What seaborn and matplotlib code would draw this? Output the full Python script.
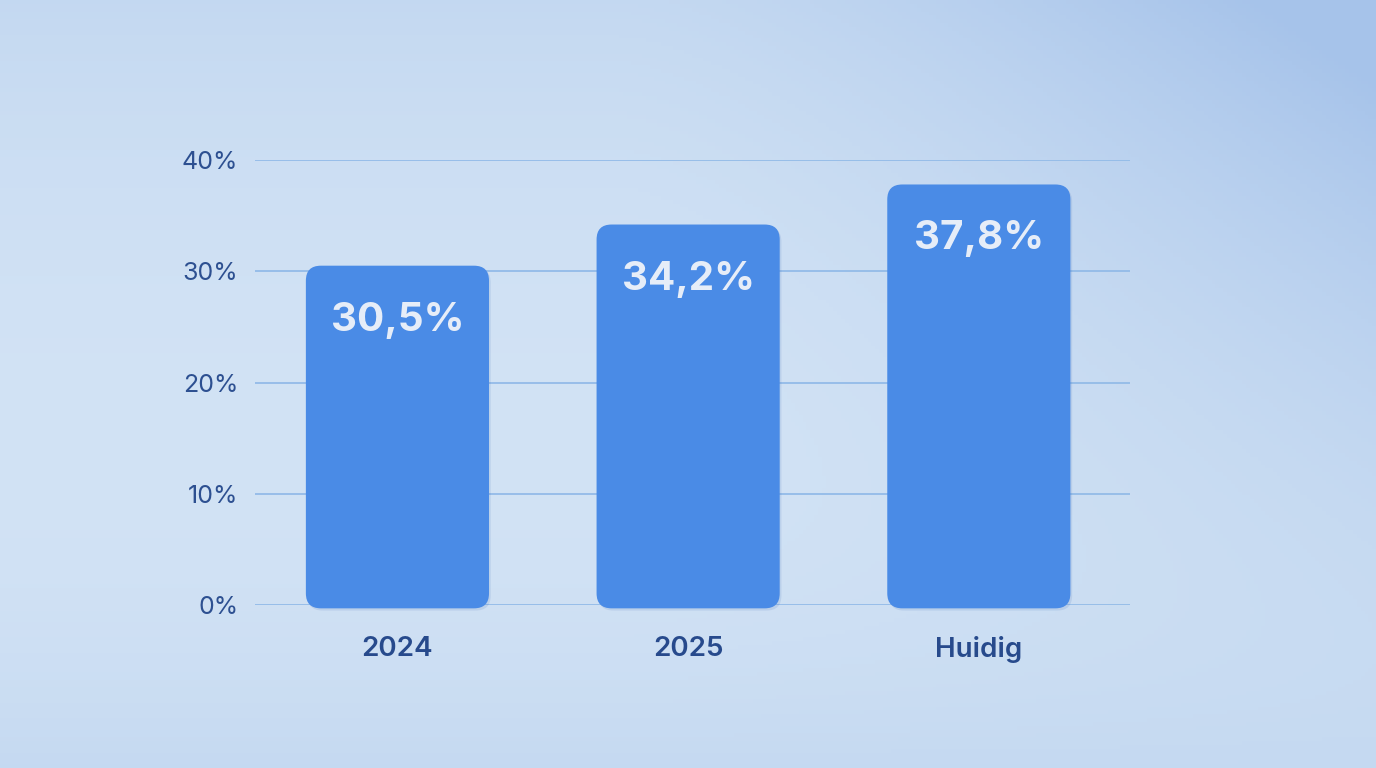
import numpy as np
import pandas as pd
import matplotlib
matplotlib.use("Agg")
import matplotlib.pyplot as plt
import seaborn as sns
from matplotlib.patches import FancyBboxPatch
from matplotlib.colors import LinearSegmentedColormap

categories = ["2024", "2025", "Huidig"]
values = [30.5, 34.2, 37.8]
value_labels = ["30,5%", "34,2%", "37,8%"]
y_ticks = [0, 10, 20, 30, 40]
y_tick_labels = ["0%", "10%", "20%", "30%", "40%"]

sns.set_theme(style="white")
plt.rcParams['font.family'] = ['Inter', 'DejaVu Sans']

W, H = 1376, 768
fig = plt.figure(figsize=(W / 100, H / 100), dpi=100)

# background gradient
bg = fig.add_axes([0, 0, 1, 1], zorder=-10)
yy, xx = np.mgrid[0:1:200j, 0:1:360j]
t = 0.55 * np.clip(xx - 0.45, 0, None) ** 1.5 * (1 - yy) * 2.2 + 0.35 * (1 - yy) ** 3 * 0.6 + 0.2 * yy ** 5
t = np.clip(t, 0, 1)
cmap = LinearSegmentedColormap.from_list("bg", ["#d4e4f5", "#a6c3ea"])
bg.imshow(t, cmap=cmap, aspect="auto", extent=[0, 1, 0, 1], origin="upper", vmin=0, vmax=0.6)
bg.axis("off")

left, right = 255 / W, 1130 / W
bottom, top = 1 - 605 / H, 1 - 160 / H
ax = fig.add_axes([left, bottom, right - left, top - bottom])
ax.patch.set_alpha(0)

df = pd.DataFrame({"cat": categories, "val": values})
sns.barplot(data=df, x="cat", y="val", ax=ax, color="#4a8be6", width=0.63, saturation=1)

ax.set_xlim(-0.49, 2.52)
ax.set_ylim(0, 40)

# replace bars with rounded ones
px_x = (right - left) * W / (2.52 + 0.49)
px_y = (top - bottom) * H / 40
aspect = px_x / px_y
r = 15 / px_x
for p in list(ax.patches):
    x0, w, h = p.get_x(), p.get_width(), p.get_height()
    p.remove()
    shadow = FancyBboxPatch((x0 + 0.006, -0.5), w, h + 0.3,
                            boxstyle=f"round,pad=0,rounding_size={r}",
                            mutation_aspect=aspect, facecolor="#2f5fae", alpha=0.12,
                            edgecolor="none", zorder=2, clip_on=False)
    ax.add_patch(shadow)
    bar = FancyBboxPatch((x0, -0.3), w, h + 0.3,
                         boxstyle=f"round,pad=0,rounding_size={r}",
                         mutation_aspect=aspect, facecolor="#4a8be6",
                         edgecolor="none", zorder=3, clip_on=False)
    ax.add_patch(bar)

for i, (v, lab) in enumerate(zip(values, value_labels)):
    ax.text(i, v - 4.9, lab, ha="center", va="center", fontsize=29,
            fontweight="bold", color="#e6edf8", zorder=5)

ax.set_yticks(y_ticks)
ax.set_yticklabels(y_tick_labels)
ax.yaxis.grid(True, color="#93bbe8", linewidth=1.3)
ax.set_axisbelow(True)
ax.tick_params(axis="y", length=0, pad=12, labelsize=18, labelcolor="#2d5091")
ax.tick_params(axis="x", length=0, pad=22, labelsize=20, labelcolor="#274a8c")
for lbl in ax.get_xticklabels():
    lbl.set_fontweight("semibold")
ax.set_xlabel("")
ax.set_ylabel("")
for s in ax.spines.values():
    s.set_visible(False)

fig.savefig("out.png", dpi=100)
